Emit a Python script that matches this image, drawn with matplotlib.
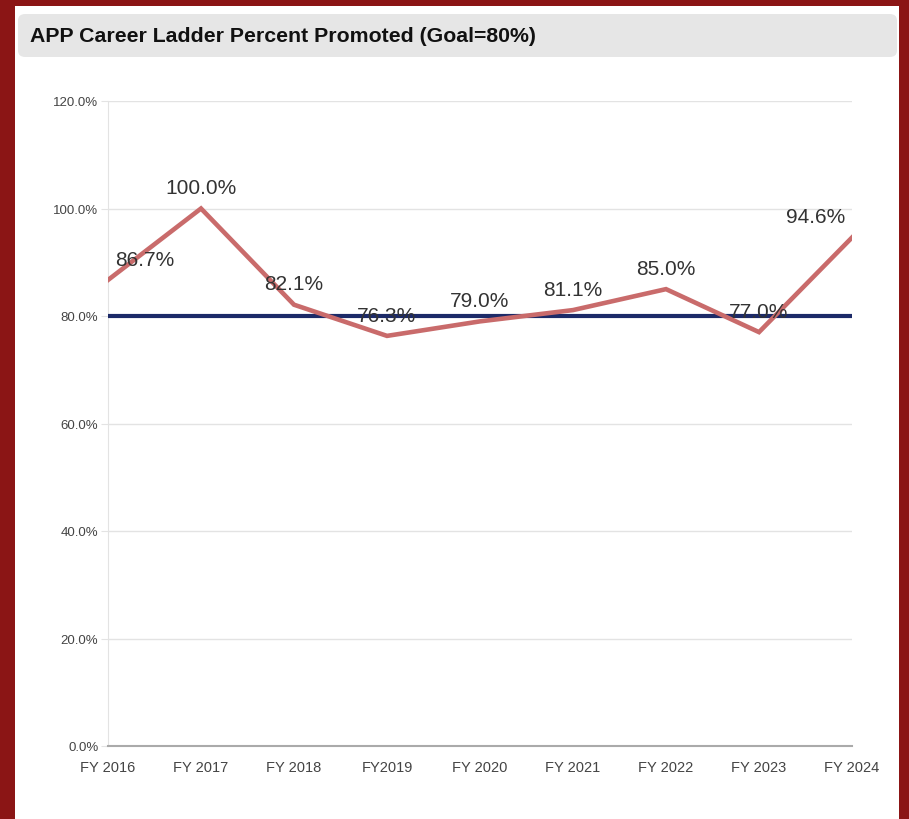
import matplotlib.pyplot as plt
from matplotlib.patches import Rectangle, FancyBboxPatch
from matplotlib.ticker import FuncFormatter

# chart data
years = ['FY 2016', 'FY 2017', 'FY 2018', 'FY2019', 'FY 2020',
         'FY 2021', 'FY 2022', 'FY 2023', 'FY 2024']
promoted = [86.7, 100.0, 82.1, 76.3, 79.0, 81.1, 85.0, 77.0, 94.6]
goal = 80.0
title = 'APP Career Ladder Percent Promoted (Goal=80%)'

W, H = 909, 820
narrow = ['Liberation Sans Narrow', 'Liberation Sans', 'DejaVu Sans']
plt.rcParams['font.family'] = ['Liberation Sans', 'DejaVu Sans']

fig = plt.figure(figsize=(W / 100, H / 100), dpi=100, facecolor='#8b1515')

# white card and grey title bar (pixel coords -> figure fraction)
def px(x0, y0, x1, y1):
    return x0 / W, 1 - y1 / H, (x1 - x0) / W, (y1 - y0) / H

x, y, w, h = px(15, 7, 899, 820)
fig.patches.append(Rectangle((x, y), w, h, transform=fig.transFigure,
                             facecolor='white', edgecolor='none', zorder=-10))
x, y, w, h = px(18, 15, 897, 58)
fig.patches.append(FancyBboxPatch((x, y), w, h, transform=fig.transFigure,
                                  boxstyle='round,pad=0,rounding_size=0.008',
                                  facecolor='#e6e6e6', edgecolor='none', zorder=-5))
fig.text(30 / W, 1 - 37 / H, title, fontsize=15.3, fontweight='bold',
         color='#111111', va='center', ha='left', family=narrow)

ax = fig.add_axes([108 / W, 73 / H, (852 - 108) / W, (747 - 102) / H])
ax.set_facecolor('none')
xs = range(len(years))

ax.axhline(goal, color='#1c2a68', lw=3, zorder=3)
ax.plot(xs, promoted, color='#c96b6b', lw=3.3, zorder=4, solid_joinstyle='miter')

for i, v in enumerate(promoted):
    ha, dx = 'center', 0
    if i == 0:
        ha, dx = 'left', 5
    elif i == len(promoted) - 1:
        ha, dx = 'right', -5
    ax.annotate(f'{v:.1f}%', (i, v), xytext=(dx, 15), textcoords='offset points',
                ha=ha, va='center', fontsize=15, color='#333333', zorder=5)

ax.set_ylim(0, 120)
ax.set_xlim(0, len(years) - 1)
ax.set_yticks(range(0, 121, 20))
ax.yaxis.set_major_formatter(FuncFormatter(lambda v, p: f'{v:.1f}%'))
ax.set_xticks(list(xs))
ax.set_xticklabels(years)
ax.grid(axis='y', color='#e3e3e3', lw=1, zorder=0)
for s in ['top', 'right']:
    ax.spines[s].set_visible(False)
ax.spines['left'].set_color('#e3e3e3')
ax.spines['bottom'].set_color('#aaaaaa')
ax.spines['bottom'].set_linewidth(1.5)
ax.tick_params(axis='y', length=5, color='#e3e3e3', pad=2, labelsize=9.5,
               labelcolor='#444444')
ax.tick_params(axis='x', length=0, pad=10, labelsize=10.5, labelcolor='#444444')
for lab in ax.get_xticklabels() + ax.get_yticklabels():
    lab.set_family(narrow)

fig.savefig('out.png', dpi=100, facecolor=fig.get_facecolor())
